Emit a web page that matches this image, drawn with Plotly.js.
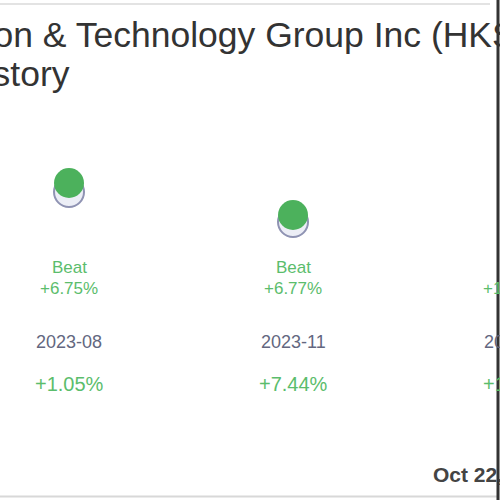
<!DOCTYPE html>
<html>
<head>
<meta charset="utf-8">
<script src="https://cdn.plot.ly/plotly-3.0.1.min.js"></script>
<style>
  html, body { margin: 0; padding: 0; width: 500px; height: 500px; overflow: hidden; background: #fff; }
  #chart { position: absolute; left: -400px; top: 0; width: 1000px; height: 500px; }
</style>
</head>
<body>
<div id="chart"></div>
<script>
// fiscal quarters shown in the crop
var quarters = ['2023-08', '2023-11', '2024-02']
var epsEstimate = [0.266, 0.206, 0.217]
var epsActual = [0.284, 0.220, 0.250]
var surprise = ['+6.75%', '+6.77%', '+15.21%']
var verdict = ['Beat', 'Beat', 'Beat']
var priceMove = ['+1.05%', '+7.44%', '+1.86%']

var titleLines = ['New Oriental Education & Technology Group Inc (HKSE:09901)', 'Earnings Surprise History']
var stamp = 'Oct 22, 2024'

var green = '#4cb15c'
var greenText = '#5bbd6c'
var font = 'Liberation Sans, Arial'

var traces = [
    {
        x: quarters,
        y: epsEstimate,
        type: 'scatter',
        mode: 'markers',
        name: 'Estimate',
        cliponaxis: false,
        marker: { size: 30, color: '#eceef6', line: { color: '#8f93b3', width: 2 } }
    },
    {
        x: quarters,
        y: epsActual,
        type: 'scatter',
        mode: 'markers',
        name: 'Actual',
        cliponaxis: false,
        marker: { size: 30, color: green, line: { width: 0 } }
    }
]

function label (x, y, text, size, color) {
    return { x: x, xref: 'x', y: y, yref: 'paper', yanchor: 'middle', text: text, showarrow: false,
        font: { family: font, size: size, color: color } }
}

var annotations = []
quarters.forEach(function (q, i) {
    var color = verdict[i] === 'Beat' ? greenText : '#e0584f'
    annotations.push(label(q, 0.466, verdict[i], 17, color))
    annotations.push(label(q, 0.424, surprise[i], 17, color))
    annotations.push(label(q, 0.316, q, 18, '#63677f'))
    annotations.push(label(q, 0.232, priceMove[i], 20, priceMove[i][0] === '+' ? greenText : '#e0584f'))
})
// the title is wider than the crop, so it starts left of the visible area
annotations.push({ x: 0.058, xref: 'paper', xanchor: 'left', y: 0.93, yref: 'paper', yanchor: 'middle',
    text: titleLines[0], showarrow: false, font: { family: font, size: 35.5, color: '#333' } })
annotations.push({ x: 0.0645, xref: 'paper', xanchor: 'left', y: 0.852, yref: 'paper', yanchor: 'middle',
    text: titleLines[1], showarrow: false, font: { family: font, size: 35.5, color: '#333' } })
annotations.push({ x: 0.831, xref: 'paper', xanchor: 'left', y: 0.052, yref: 'paper', yanchor: 'middle',
    text: '<b>' + stamp + '</b>', showarrow: false, font: { family: font, size: 21, color: '#444' } })

var layout = {
    width: 1000,
    height: 500,
    margin: { l: 0, r: 0, t: 0, b: 0 },
    paper_bgcolor: '#fff',
    plot_bgcolor: '#fff',
    showlegend: false,
    xaxis: { type: 'category', range: [-2.0938, 2.3705], visible: false, fixedrange: true },
    yaxis: { range: [-0.35, 0.65], visible: false, fixedrange: true },
    annotations: annotations,
    shapes: [
        { type: 'line', xref: 'paper', yref: 'paper', x0: 0, x1: 0.89, y0: 0.992, y1: 0.992, line: { color: '#e3e3e3', width: 2 } },
        { type: 'line', xref: 'paper', yref: 'paper', x0: 0, x1: 0.898, y0: 0.007, y1: 0.007, line: { color: '#d8d8d8', width: 2 } },
        { type: 'line', xref: 'paper', yref: 'paper', x0: 0.898, x1: 0.898, y0: 0, y1: 1, line: { color: '#333', width: 3 } }
    ]
}

Plotly.newPlot('chart', traces, layout, { staticPlot: true })
</script>
</body>
</html>
